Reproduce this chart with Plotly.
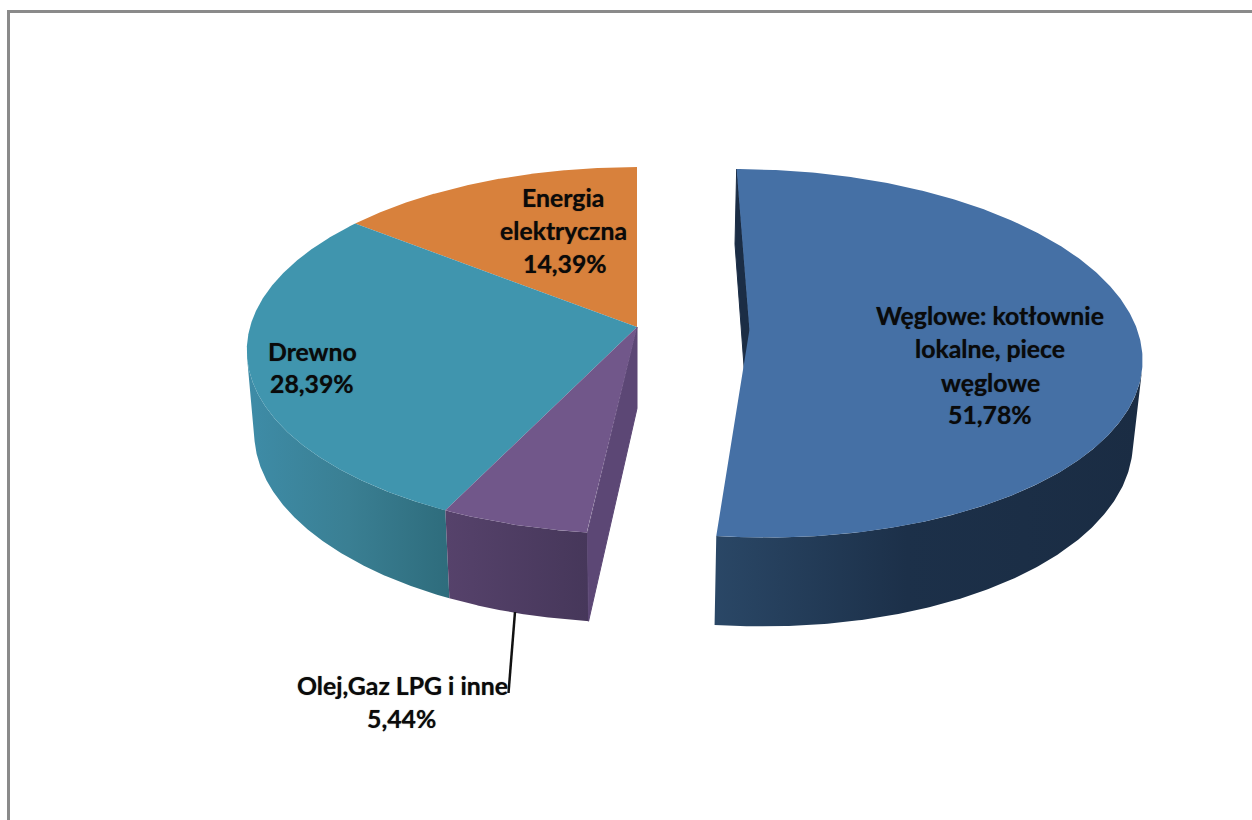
import numpy as np
import plotly.graph_objects as go

# ---- data -----------------------------------------------------------------
categories = ["Węglowe: kotłownie lokalne, piece węglowe", "Olej,Gaz LPG i inne", "Drewno", "Energia elektryczna"]
shares = [51.78, 5.44, 28.39, 14.39]
label_lines = [
    ["Węglowe: kotłownie", "lokalne, piece", "węglowe", "51,78%"],
    ["Olej,Gaz LPG i inne", "5,44%"],
    ["Drewno", "28,39%"],
    ["Energia", "elektryczna", "14,39%"],
]
top_colors = ["#4570a5", "#71578a", "#4095ae", "#d8813c"]
wall_scales = [
    [[0, "#2a4766"], [0.45, "#1c3049"], [1, "#1a2c43"]],
    [[0, "#56426b"], [1, "#46375a"]],
    [[0, "#3e8ca7"], [0.5, "#3a7f93"], [1, "#2e6c7c"]],
    None,
]
inner_colors = ["#1b2d45", "#5c4775", None, None]
explode = [(0.29, -0.015), (0, 0), (0, 0), (0, 0)]

# ---- projection of the tilted pie ------------------------------------------
CX, CY = 637, 327
A, B = 387, 180.5
K, M, D = 0.128, 0.019, 83


def project(u, v, z=0.0):
    w = 1 + K * v + M * z
    return CX + A * u / w, CY + (D * z - B * v) / w


def arc(a0, a1, off, z=0.0):
    t = np.radians(np.linspace(a0, a1, 400))
    return project(np.sin(t) + off[0], np.cos(t) + off[1], z)


fig = go.Figure()


def poly(x, y, color=None, scale=None, edge=0):
    kw = dict(x=list(x), y=list(y), mode="lines", fill="toself",
              line=dict(width=edge, color=color),
              hoverinfo="skip", showlegend=False)
    if scale is not None:
        kw["fillgradient"] = dict(type="horizontal", colorscale=scale,
                                  start=float(np.min(x)), stop=float(np.max(x)))
    else:
        kw["fillcolor"] = color
    fig.add_trace(go.Scatter(**kw))


edges = np.concatenate([[0], np.cumsum(shares)]) * 3.6
# the walls first, the coloured top faces over them
for i in [2, 1, 0]:
    a0, a1, off = edges[i], edges[i + 1], explode[i]
    if wall_scales[i] is not None:
        tx, ty = arc(a0, a1, off)
        bx, by = arc(a0, a1, off, 1)
        # keep only the part of the rim that faces the viewer, so the side
        # of the drum ends on its silhouette line
        front = np.gradient(tx) * (by - ty) - np.gradient(ty) * (bx - tx) < 0
        poly(np.r_[tx[front], bx[front][::-1]], np.r_[ty[front], by[front][::-1]], scale=wall_scales[i])
    if inner_colors[i] is not None:
        ang = np.radians(a0)
        eu, ev = np.sin(ang) + off[0], np.cos(ang) + off[1]
        p = [project(off[0], off[1]), project(off[0], off[1], 1), project(eu, ev, 1), project(eu, ev)]
        poly([q[0] for q in p] + [p[0][0]], [q[1] for q in p] + [p[0][1]], inner_colors[i], edge=1)
for i in [3, 2, 1, 0]:
    a0, a1, off = edges[i], edges[i + 1], explode[i]
    tx, ty = arc(a0, a1, off)
    ax, ay = project(off[0], off[1])
    poly(np.r_[ax, tx, ax], np.r_[ay, ty, ay], top_colors[i])

# leader line of the small slice
fig.add_trace(go.Scatter(x=[515, 508.5], y=[612, 693], mode="lines",
                         line=dict(color="#111111", width=2.5),
                         hoverinfo="skip", showlegend=False))

label_pos = [
    [(990, 315), (990, 348), (990, 382), (990, 414)],
    [(402, 685), (401, 718)],
    [(312, 351), (312, 383)],
    [(563, 197), (563, 230), (565, 263)],
]
for lines, pos in zip(label_lines, label_pos):
    for text, (x, y) in zip(lines, pos):
        fig.add_annotation(x=x, y=y, text=f"<b>{text}</b>", showarrow=False,
                           xanchor="center", yanchor="middle",
                           font=dict(family="Lato", size=24.8, color="#0a0a0a",
                                     shadow="0 0 1px rgba(0,0,0,0.55)"))

frame = dict(type="line", line=dict(color="#8a8a8a", width=3), layer="above")
fig.add_shape(x0=8.5, x1=8.5, y0=11, y1=820, **frame)
fig.add_shape(x0=7, x1=1252, y0=11.5, y1=11.5, **frame)

fig.update_layout(
    width=1252, height=820, margin=dict(l=0, r=0, t=0, b=0),
    paper_bgcolor="white", plot_bgcolor="white", showlegend=False,
    xaxis=dict(range=[0, 1252], visible=False, fixedrange=True),
    yaxis=dict(range=[820, 0], visible=False, fixedrange=True),
)
fig.write_html("out.html", config={"displayModeBar": False},
               post_script="document.body.style.margin='0';document.body.style.overflow='hidden';")
